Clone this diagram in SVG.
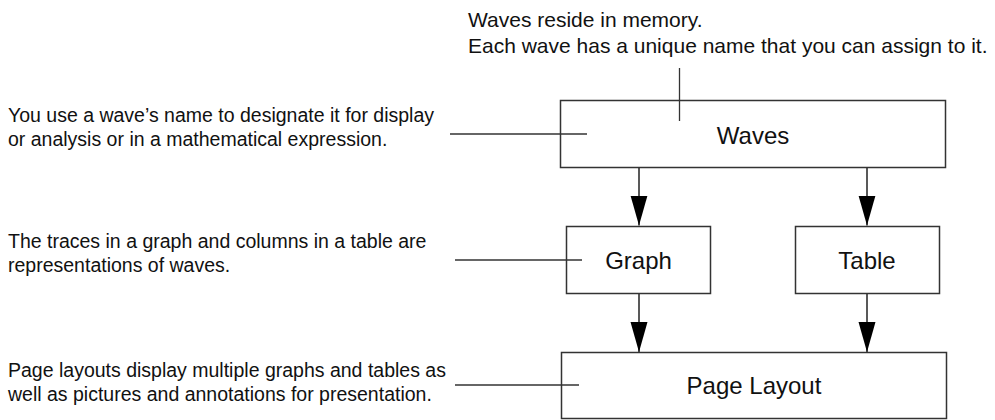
<svg xmlns="http://www.w3.org/2000/svg" width="995" height="420" viewBox="0 0 995 420">
<style>
  .box { fill: #fff; stroke: #333; stroke-width: 1.5; }
  .lbl { font-family: "Liberation Sans", Arial, sans-serif; font-size: 24px; fill: #111; text-anchor: middle; }
  .note { font-family: "Liberation Sans", Arial, sans-serif; font-size: 19.5px; fill: #111; }
  .top { font-family: "Liberation Sans", Arial, sans-serif; font-size: 21px; fill: #111; }
  .lead { stroke: #333; stroke-width: 1.3; fill: none; }
  .conn { stroke: #222; stroke-width: 1.5; fill: none; marker-end: url(#ah); }
</style>
<defs>
  <marker id="ah" markerUnits="userSpaceOnUse" markerWidth="30" markerHeight="18" refX="30" refY="9" orient="auto" viewBox="0 0 30 18">
    <path d="M0,0.5 L30,9 L0,17.5 Z" fill="#000"/>
  </marker>
</defs>
<rect width="995" height="420" fill="#fff"/>
<g id="connectors">
  <line class="conn" x1="639" y1="168" x2="639" y2="225.5"/>
  <line class="conn" x1="867" y1="168" x2="867" y2="225.5"/>
  <line class="conn" x1="639" y1="294" x2="639" y2="352"/>
  <line class="conn" x1="867" y1="294" x2="867" y2="352"/>
</g>
<g id="waves">
  <rect class="box" x="560.5" y="100.5" width="385" height="67"/>
  <text class="lbl" x="753" y="144">Waves</text>
</g>
<g id="graph">
  <rect class="box" x="566.5" y="226.5" width="144" height="67"/>
  <text class="lbl" x="638.5" y="269">Graph</text>
</g>
<g id="table">
  <rect class="box" x="795.5" y="226.5" width="144" height="67"/>
  <text class="lbl" x="867" y="269">Table</text>
</g>
<g id="page-layout">
  <rect class="box" x="561.5" y="352.5" width="385" height="66"/>
  <text class="lbl" x="754" y="394">Page Layout</text>
</g>
<g id="leaders">
  <line class="lead" x1="679.5" y1="68" x2="679.5" y2="121"/>
  <line class="lead" x1="450" y1="134" x2="587" y2="134"/>
  <line class="lead" x1="455" y1="260" x2="582" y2="260"/>
  <line class="lead" x1="455" y1="385" x2="579" y2="385"/>
</g>
<g id="note-top">
  <text class="top" x="468" y="27">Waves reside in memory.</text>
  <text class="top" x="468" y="53">Each wave has a unique name that you can assign to it.</text>
</g>
<g id="note-waves">
  <text class="note" x="8" y="122">You use a wave’s name to designate it for display</text>
  <text class="note" x="8" y="146">or analysis or in a mathematical expression.</text>
</g>
<g id="note-graph">
  <text class="note" x="8" y="248">The traces in a graph and columns in a table are</text>
  <text class="note" x="8" y="272">representations of waves.</text>
</g>
<g id="note-page">
  <text class="note" x="8" y="377">Page layouts display multiple graphs and tables as</text>
  <text class="note" x="8" y="401">well as pictures and annotations for presentation.</text>
</g>
</svg>
